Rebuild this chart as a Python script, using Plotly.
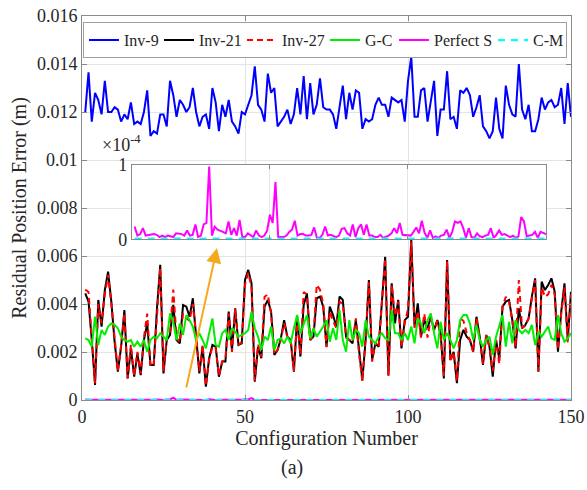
import plotly.graph_objects as go

configs = list(range(1, 151))

inv9 = [0.0120, 0.01365, 0.0116, 0.0128, 0.0125, 0.0119, 0.0133, 0.0120, 0.0120, 0.0122,
        0.0121, 0.0116, 0.0119, 0.0117, 0.0124, 0.0115, 0.0116, 0.0115, 0.0120, 0.0129,
        0.0110, 0.0112, 0.0111, 0.0119, 0.0119, 0.0114, 0.0133, 0.0127, 0.0118, 0.0125,
        0.0123, 0.0120, 0.0122, 0.0130, 0.0120, 0.0114, 0.0118, 0.0119, 0.0113, 0.0130,
        0.0124, 0.0112, 0.0123, 0.0118, 0.0125, 0.0116, 0.0114, 0.0111, 0.0120, 0.0119,
        0.0123, 0.0127, 0.0139, 0.0123, 0.0121, 0.0116, 0.0136, 0.0128, 0.0130, 0.0114,
        0.0116, 0.0118, 0.0121, 0.0115, 0.0119, 0.0130, 0.0119, 0.0135, 0.0117, 0.0132,
        0.0119, 0.0123, 0.0134, 0.0122, 0.0121, 0.0121, 0.0119, 0.0113, 0.0122, 0.0131,
        0.0117, 0.0128, 0.0121, 0.0129, 0.0128, 0.0113, 0.0117, 0.0116, 0.0117, 0.0123,
        0.0126, 0.0123, 0.0123, 0.0118, 0.0126, 0.0125, 0.0124, 0.0125, 0.0116, 0.0133,
        0.0143, 0.0118, 0.0118, 0.0129, 0.0130, 0.0116, 0.0125, 0.0133, 0.0110, 0.0121,
        0.0121, 0.0137, 0.0117, 0.0118, 0.0113, 0.0129, 0.0128, 0.0130, 0.0127, 0.0118,
        0.0122, 0.0127, 0.0114, 0.0112, 0.0109, 0.0112, 0.0126, 0.0113, 0.0109, 0.0131,
        0.0123, 0.0119, 0.0118, 0.0140, 0.0121, 0.0117, 0.0123, 0.0112, 0.0112, 0.0117,
        0.0126, 0.0121, 0.0124, 0.0125, 0.0122, 0.0123, 0.0130, 0.0115, 0.0132, 0.0118]

inv21 = [0.00444, 0.00410, 0.00250, 0.00063, 0.00417, 0.00306, 0.00458, 0.00535, 0.00410, 0.00243,
         0.00118, 0.00222, 0.00375, 0.00090, 0.00215, 0.00097, 0.00194, 0.00104, 0.00250, 0.00319,
         0.00146, 0.00146, 0.00382, 0.00563, 0.00111, 0.00250, 0.00271, 0.00396, 0.00250, 0.00236,
         0.00396, 0.00389, 0.00347, 0.00424, 0.00264, 0.00111, 0.00222, 0.00056, 0.00174, 0.00229,
         0.00222, 0.00097, 0.00160, 0.00160, 0.00368, 0.00208, 0.00382, 0.00229, 0.00236, 0.00500,
         0.00542, 0.00486, 0.00076, 0.00222, 0.00174, 0.00389, 0.00417, 0.00368, 0.00188, 0.00208,
         0.00257, 0.00333, 0.00264, 0.00250, 0.00118, 0.00347, 0.00181, 0.00396, 0.00444, 0.00250,
         0.00264, 0.00424, 0.00431, 0.00389, 0.00222, 0.00389, 0.00354, 0.00306, 0.00431, 0.00417,
         0.00264, 0.00250, 0.00236, 0.00333, 0.00194, 0.00083, 0.00250, 0.00500, 0.00167, 0.00236,
         0.00222, 0.00403, 0.00597, 0.00104, 0.00486, 0.00319, 0.00417, 0.00215, 0.00333, 0.00347,
         0.00667, 0.00306, 0.00403, 0.00264, 0.00333, 0.00299, 0.00347, 0.00292, 0.00333, 0.00278,
         0.00090, 0.00583, 0.00167, 0.00201, 0.00070, 0.00250, 0.00292, 0.00264, 0.00250, 0.00201,
         0.00347, 0.00264, 0.00146, 0.00271, 0.00222, 0.00097, 0.00250, 0.00174, 0.00389, 0.00410,
         0.00417, 0.00333, 0.00215, 0.00382, 0.00299, 0.00313, 0.00340, 0.00431, 0.00507, 0.00118,
         0.00493, 0.00458, 0.00479, 0.00507, 0.00451, 0.00201, 0.00368, 0.00486, 0.00250, 0.00451]

inv27 = [0.0046, 0.0045, 0.0026, 0.0007, 0.0040, 0.0032, 0.0044, 0.0052, 0.0040, 0.0025,
         0.0012, 0.0023, 0.0036, 0.0009, 0.0023, 0.0010, 0.0020, 0.0011, 0.0026, 0.0036,
         0.0014, 0.0015, 0.0037, 0.0055, 0.0012, 0.0026, 0.0028, 0.0046, 0.0026, 0.0024,
         0.0036, 0.0034, 0.0033, 0.0040, 0.0027, 0.0012, 0.0023, 0.0006, 0.0017, 0.0022,
         0.0022, 0.0010, 0.0016, 0.0017, 0.0036, 0.0020, 0.0038, 0.0023, 0.0024, 0.0048,
         0.0053, 0.0047, 0.0008, 0.0023, 0.0018, 0.0043, 0.0044, 0.0036, 0.0019, 0.0021,
         0.0025, 0.0032, 0.0026, 0.0025, 0.0012, 0.0034, 0.0019, 0.0045, 0.0044, 0.0025,
         0.0027, 0.0048, 0.0046, 0.0040, 0.0022, 0.0037, 0.0033, 0.0030, 0.0041, 0.0040,
         0.0026, 0.0025, 0.0024, 0.0034, 0.0019, 0.0008, 0.0026, 0.0049, 0.0016, 0.0024,
         0.0022, 0.0041, 0.0059, 0.0010, 0.0048, 0.0035, 0.0041, 0.0022, 0.0032, 0.0038,
         0.0066, 0.0030, 0.0037, 0.0026, 0.0036, 0.0026, 0.0034, 0.0029, 0.0033, 0.0027,
         0.0010, 0.0058, 0.0016, 0.0020, 0.0008, 0.0034, 0.0033, 0.0028, 0.0025, 0.0020,
         0.0034, 0.0026, 0.0015, 0.0027, 0.0022, 0.0012, 0.0025, 0.0015, 0.0039, 0.0043,
         0.0041, 0.0033, 0.0022, 0.0050, 0.0030, 0.0031, 0.0034, 0.0042, 0.0050, 0.0012,
         0.0047, 0.0043, 0.0044, 0.0048, 0.0044, 0.0021, 0.0036, 0.0047, 0.0024, 0.0044]

gc = [0.00257, 0.00250, 0.00222, 0.00347, 0.00229, 0.00292, 0.00271, 0.00306, 0.00319, 0.00313,
      0.00299, 0.00264, 0.00250, 0.00243, 0.00250, 0.00222, 0.00243, 0.00222, 0.00250, 0.00201,
      0.00250, 0.00264, 0.00257, 0.00278, 0.00264, 0.00250, 0.00361, 0.00326, 0.00250, 0.00319,
      0.00271, 0.00354, 0.00333, 0.00306, 0.00250, 0.00278, 0.00250, 0.00215, 0.00278, 0.00340,
      0.00229, 0.00222, 0.00278, 0.00292, 0.00250, 0.00299, 0.00285, 0.00264, 0.00271, 0.00278,
      0.00292, 0.00368, 0.00299, 0.00264, 0.00208, 0.00264, 0.00250, 0.00306, 0.00208, 0.00250,
      0.00257, 0.00236, 0.00264, 0.00236, 0.00299, 0.00354, 0.00278, 0.00319, 0.00354, 0.00257,
      0.00299, 0.00264, 0.00285, 0.00306, 0.00333, 0.00243, 0.00299, 0.00250, 0.00375, 0.00250,
      0.00201, 0.00333, 0.00250, 0.00292, 0.00278, 0.00222, 0.00333, 0.00264, 0.00250, 0.00236,
      0.00264, 0.00278, 0.00257, 0.00250, 0.00375, 0.00278, 0.00278, 0.00250, 0.00278, 0.00250,
      0.00306, 0.00236, 0.00340, 0.00319, 0.00278, 0.00333, 0.00361, 0.00278, 0.00215, 0.00326,
      0.00250, 0.00278, 0.00250, 0.00215, 0.00250, 0.00333, 0.00354, 0.00354, 0.00319, 0.00250,
      0.00313, 0.00250, 0.00222, 0.00250, 0.00264, 0.00188, 0.00264, 0.00306, 0.00354, 0.00222,
      0.00326, 0.00236, 0.00333, 0.00292, 0.00278, 0.00292, 0.00278, 0.00313, 0.00229, 0.00285,
      0.00264, 0.00285, 0.00306, 0.00257, 0.00250, 0.00354, 0.00278, 0.00243, 0.00257, 0.00278]

# Perfect S and C-M in units of 1e-4 m
perfect_s_e4 = [0.17, 0.05, 0.07, 0.15, 0.05, 0.06, 0.07, 0.07, 0.06, 0.03,
                0.05, 0.03, 0.05, 0.04, 0.03, 0.08, 0.08, 0.07, 0.05, 0.12,
                0.05, 0.06, 0.20, 0.03, 0.05, 0.20, 0.22, 0.98, 0.05, 0.17,
                0.13, 0.12, 0.10, 0.08, 0.24, 0.06, 0.15, 0.05, 0.26, 0.03,
                0.03, 0.08, 0.05, 0.03, 0.12, 0.05, 0.03, 0.05, 0.12, 0.33,
                0.22, 0.77, 0.03, 0.03, 0.03, 0.05, 0.10, 0.13, 0.25, 0.05,
                0.07, 0.07, 0.05, 0.05, 0.06, 0.16, 0.02, 0.02, 0.06, 0.17,
                0.05, 0.06, 0.04, 0.03, 0.05, 0.14, 0.15, 0.08, 0.05, 0.20,
                0.03, 0.15, 0.20, 0.06, 0.20, 0.05, 0.05, 0.03, 0.03, 0.06,
                0.02, 0.03, 0.05, 0.08, 0.15, 0.08, 0.22, 0.06, 0.06, 0.06,
                0.05, 0.10, 0.16, 0.08, 0.25, 0.09, 0.02, 0.12, 0.02, 0.04,
                0.02, 0.05, 0.06, 0.13, 0.02, 0.10, 0.24, 0.22, 0.24, 0.15,
                0.02, 0.15, 0.03, 0.02, 0.08, 0.04, 0.03, 0.05, 0.06, 0.15,
                0.02, 0.06, 0.12, 0.06, 0.07, 0.05, 0.03, 0.05, 0.02, 0.04,
                0.30, 0.24, 0.04, 0.05, 0.06, 0.10, 0.02, 0.10, 0.08, 0.07]

cm_e4 = [0.004, 0.005, 0.004, 0.006, 0.005, 0.004, 0.005, 0.006, 0.004, 0.005,
         0.005, 0.004, 0.006, 0.005, 0.004, 0.005, 0.005, 0.006, 0.004, 0.005,
         0.004, 0.005, 0.006, 0.005, 0.004, 0.005, 0.004, 0.006, 0.005, 0.004,
         0.005, 0.006, 0.004, 0.005, 0.005, 0.004, 0.006, 0.005, 0.004, 0.005,
         0.005, 0.006, 0.004, 0.005, 0.004, 0.005, 0.006, 0.005, 0.004, 0.005,
         0.004, 0.006, 0.005, 0.004, 0.005, 0.005, 0.006, 0.004, 0.005, 0.004,
         0.005, 0.006, 0.005, 0.004, 0.005, 0.004, 0.006, 0.005, 0.004, 0.005,
         0.005, 0.006, 0.004, 0.005, 0.004, 0.005, 0.006, 0.005, 0.004, 0.005,
         0.004, 0.006, 0.005, 0.004, 0.005, 0.005, 0.006, 0.004, 0.005, 0.004,
         0.005, 0.006, 0.005, 0.004, 0.005, 0.004, 0.006, 0.005, 0.004, 0.005,
         0.005, 0.006, 0.004, 0.005, 0.004, 0.005, 0.006, 0.005, 0.004, 0.005,
         0.004, 0.006, 0.005, 0.004, 0.005, 0.005, 0.006, 0.004, 0.005, 0.004,
         0.005, 0.006, 0.005, 0.004, 0.005, 0.004, 0.006, 0.005, 0.004, 0.005,
         0.005, 0.006, 0.004, 0.005, 0.004, 0.005, 0.006, 0.005, 0.004, 0.005,
         0.004, 0.006, 0.005, 0.004, 0.005, 0.005, 0.006, 0.004, 0.005, 0.004]

perfect_s = [v * 1e-4 for v in perfect_s_e4]
cm = [v * 1e-4 for v in cm_e4]

y_ticks = [0, 0.002, 0.004, 0.006, 0.008, 0.01, 0.012, 0.014, 0.016]
y_ticktext = ["0", "0.002", "0.004", "0.006", "0.008", "0.01", "0.012", "0.014", "0.016"]
x_ticks = [0, 50, 100, 150]

FONT = "Liberation Serif, Times New Roman, serif"
AX = "#8a8a8a"
GRID = "#e4e4e4"

fig = go.Figure()

series = [
    ("Inv-9", inv9, "#0000FF", None, 30),
    ("Inv-21", inv21, "#000000", None, 38),
    ("Inv-27", inv27, "#FF0000", "6px,4px", 38),
    ("G-C", gc, "#00EE00", None, 24),
    ("Perfect S", perfect_s, "#FF00FF", None, 54),
    ("C-M", cm, "#00FFFF", "7px,6px", 28),
]
for name, ys, col, dash, lw in series:
    fig.add_trace(go.Scatter(
        x=configs, y=ys, mode="lines", name=name,
        line=dict(color=col, width=2.2 if name == "C-M" else 2, dash=dash),
        legendwidth=lw,
        xaxis="x", yaxis="y",
    ))

fig.add_trace(go.Scatter(x=configs, y=perfect_s_e4, mode="lines", showlegend=False,
                         line=dict(color="#FF00FF", width=2), xaxis="x2", yaxis="y2"))
fig.add_trace(go.Scatter(x=configs, y=cm_e4, mode="lines", showlegend=False,
                         line=dict(color="#00FFFF", width=3, dash="7px,6px"),
                         xaxis="x2", yaxis="y2"))

fig.update_layout(
    width=587, height=490,
    margin=dict(l=82, r=16, t=16, b=90, autoexpand=False),
    paper_bgcolor="white", plot_bgcolor="white",
    font=dict(family=FONT, size=18, color="#262626"),
    showlegend=True,
    legend=dict(orientation="h", x=0.002, y=0.984, xanchor="left", yanchor="top",
                bgcolor="white", bordercolor="#a0a0a0", borderwidth=1,
                font=dict(family=FONT, size=16, color="#262626"),
                itemwidth=30, tracegroupgap=0),
    xaxis=dict(domain=[0, 1], range=[0, 150], tickvals=x_ticks, automargin=False,
               ticklabeloverflow="allow",
               showline=True, linecolor=AX, linewidth=1, mirror="ticks",
               ticks="inside", ticklen=5, tickcolor=AX,
               showgrid=True, gridcolor=GRID, zeroline=False,
               title=dict(text="Configuration Number", font=dict(family=FONT, size=20), standoff=1),
               tickfont=dict(family=FONT, size=18)),
    yaxis=dict(domain=[0, 1], range=[0, 0.016], tickvals=y_ticks, ticktext=y_ticktext,
               automargin=False, ticklabeloverflow="allow",
               showline=True, linecolor=AX, linewidth=1, mirror="ticks",
               ticks="inside", ticklen=5, tickcolor=AX,
               showgrid=True, gridcolor=GRID, zeroline=False,
               title=dict(text="Residual Position Error (m)", font=dict(family=FONT, size=20), standoff=4),
               tickfont=dict(family=FONT, size=18)),
    xaxis2=dict(domain=[0.102, 0.949], range=[0, 150], anchor="y2", tickvals=[50, 100],
                automargin=False,
                showticklabels=False, showline=True, linecolor=AX, linewidth=1,
                mirror="ticks", ticks="inside", ticklen=4, tickcolor=AX,
                showgrid=True, gridcolor=GRID, zeroline=False),
    yaxis2=dict(domain=[0.4185, 0.612], range=[0, 1.0], anchor="x2", tickvals=[0, 1],
                automargin=False, ticklabeloverflow="allow",
                ticktext=["0", "1"], showline=True, linecolor=AX, linewidth=1,
                mirror="ticks", ticks="inside", ticklen=4, tickcolor=AX,
                showgrid=False, zeroline=False, tickfont=dict(family=FONT, size=18)),
)

fig.add_annotation(x=41.4, y=0.00633, ax=31.9, ay=0.00046, xref="x", yref="y",
                   axref="x", ayref="y", showarrow=True, text="",
                   arrowcolor="#F5A91E", arrowwidth=2, arrowhead=2, arrowsize=1.5)

fig.add_annotation(x=0.036, y=0.668, xref="paper", yref="paper", xanchor="left",
                   yanchor="middle", showarrow=False, text="×10<sup>-4</sup>",
                   font=dict(family=FONT, size=18, color="#262626"))

fig.add_annotation(x=0.43, y=-0.175, xref="paper", yref="paper", xanchor="center",
                   yanchor="middle", showarrow=False, text="(a)",
                   font=dict(family=FONT, size=20, color="#262626"))

fig.write_html("out.html",
               config={"displayModeBar": False},
               post_script="document.body.style.margin='0px';document.body.style.overflow='hidden';")
